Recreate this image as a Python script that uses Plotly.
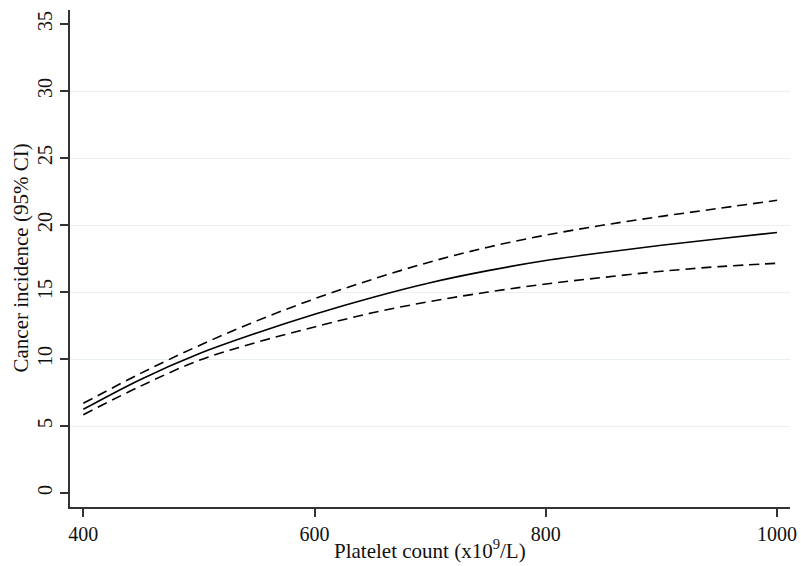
import plotly.graph_objects as go

platelet = [400, 450, 500, 550, 600, 650, 700, 750, 800, 850, 900, 950, 1000]
incidence = [6.25, 8.5, 10.4, 11.95, 13.35, 14.6, 15.7, 16.6, 17.35, 17.95, 18.5, 18.98, 19.45]
upper_ci = [6.7, 8.95, 11.0, 12.85, 14.5, 15.95, 17.25, 18.35, 19.25, 20.0, 20.65, 21.25, 21.85]
lower_ci = [5.85, 8.0, 9.9, 11.25, 12.4, 13.45, 14.3, 15.0, 15.6, 16.1, 16.55, 16.9, 17.15]

x_ticks = [400, 600, 800, 1000]
y_ticks = [0, 5, 10, 15, 20, 25, 30, 35]
grid_vals = [5, 10, 15, 20, 25, 30]

x_range = [388.5, 1011.2]
y_range = [-1.04, 36.05]

FONT = "Palatino Linotype, Book Antiqua, Palatino, Liberation Serif, serif"
AX = "#333333"
TXT = "#111111"

fig = go.Figure()
fig.add_trace(go.Scatter(x=platelet, y=upper_ci, mode="lines",
                         line=dict(color="black", width=1.6, dash="10px,6px", shape="spline"), showlegend=False))
fig.add_trace(go.Scatter(x=platelet, y=incidence, mode="lines",
                         line=dict(color="black", width=1.6, shape="spline"), showlegend=False))
fig.add_trace(go.Scatter(x=platelet, y=lower_ci, mode="lines",
                         line=dict(color="black", width=1.6, dash="10px,6px", shape="spline"), showlegend=False))
# invisible trace so the gridline axis is rendered
fig.add_trace(go.Scatter(x=[platelet[0]], y=[incidence[0]], yaxis="y2", mode="markers",
                         marker=dict(opacity=0), showlegend=False, hoverinfo="skip"))

fig.update_layout(
    width=801, height=566,
    margin=dict(l=70, r=11, t=10, b=59),
    paper_bgcolor="white", plot_bgcolor="white",
    font=dict(family=FONT, size=20, color=TXT),
    xaxis=dict(range=x_range, tickvals=x_ticks, ticks="outside", ticklen=8, tickwidth=1.5, tickcolor=AX,
               showline=True, linecolor=AX, linewidth=1.5, showgrid=False, zeroline=False, automargin=False,
               tickfont=dict(family=FONT, size=20, color=TXT)),
    yaxis=dict(range=y_range, tickvals=y_ticks, ticks="outside", ticklen=8, tickwidth=1.5, tickcolor=AX,
               showline=True, linecolor=AX, linewidth=1.5, showgrid=False, zeroline=False, tickangle=-90,
               automargin=False,
               tickfont=dict(family=FONT, size=20, color=TXT)),
    yaxis2=dict(range=y_range, tickvals=grid_vals, overlaying="y", showgrid=True, gridcolor="#e8f0f2", gridwidth=1,
                showticklabels=False, ticks="", zeroline=False, showline=False, automargin=False),
    annotations=[
        dict(text="Platelet count (x10<sup>9</sup>/L)", xref="paper", yref="paper", x=0.5, y=0, yshift=-42,
             xanchor="center", yanchor="middle", showarrow=False, font=dict(family=FONT, size=21, color=TXT)),
        dict(text="Cancer incidence (95% CI)", xref="paper", yref="paper", x=0, y=0.5, xshift=-50,
             xanchor="center", yanchor="middle", textangle=-90, showarrow=False,
             font=dict(family=FONT, size=21, color=TXT)),
    ],
)

fig.write_html("out.html")
